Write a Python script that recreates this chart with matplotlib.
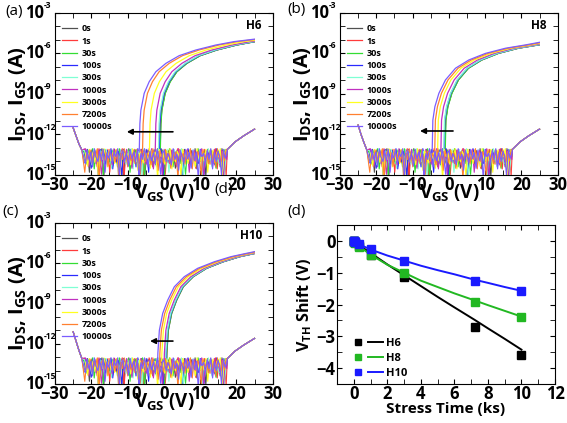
import numpy as np
import matplotlib
matplotlib.use('Agg')
import matplotlib.pyplot as plt
from matplotlib.patches import Rectangle
from matplotlib.lines import Line2D
from matplotlib.legend_handler import HandlerTuple
from matplotlib.ticker import FixedLocator, NullFormatter, MultipleLocator

plt.rcParams['font.family'] = ['Open Sans', 'DejaVu Sans']
plt.rcParams['font.weight'] = 'bold'
plt.rcParams['axes.labelweight'] = 'bold'
plt.rcParams['mathtext.fontset'] = 'custom'
plt.rcParams['mathtext.rm'] = 'Open Sans'
plt.rcParams['mathtext.bf'] = 'Open Sans:bold'
plt.rcParams['mathtext.it'] = 'Open Sans:italic'

# ---- data ----
stress_labels = ['0s', '1s', '30s', '100s', '300s', '1000s', '3000s', '7200s', '10000s']
colors = ['#505050', '#ff3b3b', '#33dd33', '#2a2aff', '#7fffd4',
          '#c030c0', '#ffff20', '#ff8030', '#7a5cff']

# turn-on voltage of each stress curve (V)
onset_h6 = [-1.05, -1.1, -1.0, -1.3, -1.5, -2.4, -4.0, -5.9, -6.8]
onset_h8 = [-1.06, -1.1, -1.0, -1.3, -1.4, -2.2, -3.1, -3.9, -4.6]
onset_h10 = [0.78, 0.7, 0.75, 0.6, 0.5, 0.1, -0.6, -1.15, -1.7]

# on-state shape: distance from turn-on (V) and log10(I)
dv_h6 = [0, 0.05, 0.19, 0.47, 1.38, 2.76, 4.6, 7.36, 11.03, 15.63, 21.14, 26.16, 32.0]
logi_h6 = [-13.3, -12.9, -11.2, -10.2, -8.95, -8.09, -7.35, -6.73, -6.16, -5.74, -5.37, -5.12, -4.93]
dv_h8 = [0, 0.05, 0.19, 0.75, 1.85, 3.66, 6.43, 10.1, 14.7, 20.2, 25.6, 30.0]
logi_h8 = [-13.3, -12.65, -10.93, -9.94, -8.95, -7.96, -7.09, -6.48, -5.99, -5.61, -5.37, -5.15]
dv_h10 = [0, 0.05, 0.46, 1.38, 2.76, 4.59, 7.34, 11.0, 15.6, 20.2, 24.3, 27.0]
logi_h10 = [-13.3, -12.7, -11.0, -9.74, -8.75, -7.75, -7.0, -6.38, -5.89, -5.51, -5.27, -5.12]

# gate leakage (IGS) ends
left_v = [-25, -24.2, -23.4, -22.6]
left_log_h6 = [-11.5, -12.1, -12.7, -13.15]
left_log_h8 = [-11.3, -12.0, -12.6, -13.15]
left_log_h10 = [-11.1, -11.8, -12.5, -13.1]
right_v = [17.5, 19.6, 22.0, 25.0]
right_log = [-13.1, -12.55, -12.1, -11.6]
floor_log = -13.5

# noise floor texture, log10 offsets from the floor
noise = [0.25, -0.45, 0.4, -1.3, 0.1, -0.25, 0.35, -0.6, 0.2, -0.15,
         0.45, -1.7, 0.05, 0.3, -0.5, 0.15, -0.85, 0.4, -0.3, 0.2,
         -0.55, 0.35, -2.0, 0.1, -0.35, 0.45, -0.05, -0.9, 0.25, -0.45,
         0.15, -0.65, 0.4, -0.25, -1.45, 0.2, 0.3, -0.5, 0.1, -0.2,
         -0.75, 0.45, -0.35, 0.05, -1.15, 0.3, -0.1, -0.6, 0.4, -0.3,
         0.15, -1.0, 0.35, -0.45, 0.2, -1.8, 0.4, -0.15, 0.1, -0.7,
         0.3, -0.35, 0.45, -1.05, 0.15, -0.5, 0.25, -0.1, -1.55, 0.4,
         -0.25, 0.1, -0.65, 0.35, -0.4, 0.2, -0.9, 0.45, -0.2, -0.5]
noise_v = np.linspace(-22, 17, len(noise))

# (d) threshold voltage shift
t_ks = [0, 0.001, 0.03, 0.1, 0.3, 1, 3, 7.2, 10]
shift_h6 = [0, -0.01, -0.02, -0.05, -0.15, -0.45, -1.15, -2.72, -3.58]
shift_h8 = [0, -0.01, -0.02, -0.06, -0.2, -0.45, -1.0, -1.92, -2.4]
shift_h10 = [0, 0, -0.01, -0.03, -0.1, -0.27, -0.62, -1.26, -1.59]
t_fit = [0, 0.5, 1, 2, 3, 4, 5, 6, 7.2, 8, 9, 10]
fit_h6 = [0, -0.2, -0.38, -0.74, -1.08, -1.42, -1.76, -2.09, -2.48, -2.75, -3.08, -3.42]
fit_h8 = [0, -0.24, -0.43, -0.75, -1.0, -1.25, -1.45, -1.65, -1.87, -2.02, -2.2, -2.38]
fit_h10 = [0, -0.15, -0.27, -0.46, -0.62, -0.78, -0.92, -1.05, -1.22, -1.32, -1.45, -1.57]

ytick_vals = [1e-15, 1e-12, 1e-9, 1e-6, 1e-3]
ytick_exp = ['-15', '-12', '-9', '-6', '-3']

W, H = 567, 423
fig = plt.figure(figsize=(W / 100, H / 100), dpi=100)


def box(l, r, t, b):
    return [l / W, 1 - b / H, (r - l) / W, (b - t) / H]


def transfer(ax, onsets, dv, logi, left_log, name, arrow):
    for i in range(len(stress_labels)):
        c = colors[i]
        nz = floor_log + np.roll(np.array(noise), 11 * i)
        v_gs = np.concatenate([left_v, noise_v + (0.17 * i) % 0.49, right_v])
        l_gs = np.concatenate([left_log, nz, right_log])
        ax.plot(v_gs, 10 ** l_gs, color=c, lw=0.8)
        v_ds = onsets[i] + np.array(dv)
        ln, = ax.plot(v_ds, 10 ** np.array(logi), color=c, lw=0.9, label=stress_labels[i])
        ln.set_clip_path(Rectangle((-26, 1e-16), 51.1, 1, transform=ax.transData))
    ax.set_yscale('log')
    ax.set_xlim(-30, 30)
    ax.set_ylim(1e-15, 1e-3)
    ax.yaxis.set_major_locator(FixedLocator(ytick_vals))
    ax.yaxis.set_major_formatter(NullFormatter())
    ax.yaxis.set_minor_locator(FixedLocator([10.0 ** k for k in range(-15, -2)]))
    ax.yaxis.set_minor_formatter(NullFormatter())
    for v, e in zip(ytick_vals, ytick_exp):
        ax.annotate('10', xy=(0, v), xycoords=('axes fraction', 'data'), xytext=(-11, 0),
                    textcoords='offset pixels', ha='right', va='center', fontsize=12,
                    annotation_clip=False, zorder=6)
        ax.annotate(e, xy=(0, v), xycoords=('axes fraction', 'data'), xytext=(-11, 3),
                    textcoords='offset pixels', ha='left', va='bottom', fontsize=6,
                    annotation_clip=False, zorder=6)
    ax.xaxis.set_major_locator(MultipleLocator(10))
    ax.xaxis.set_minor_locator(MultipleLocator(5))
    ax.tick_params(which='both', direction='in', top=True, right=True, labelsize=12, pad=0.5,
                   length=3.5)
    ax.set_xlabel(r'$\mathbf{V_{GS}}$ (V)', fontsize=13.5)
    ax.xaxis.set_label_coords(0.5, -0.045)
    ax.set_ylabel(r'$\mathbf{I_{DS}}$, $\mathbf{I_{GS}}$ (A)', fontsize=14.5)
    ax.yaxis.set_label_coords(-0.12, 0.5)
    ax.text(0.95, 0.92, name, transform=ax.transAxes, ha='right', va='center', fontsize=8.5)
    ax.annotate('', xy=(arrow[1], 10 ** arrow[2]), xytext=(arrow[0], 10 ** arrow[2]),
                arrowprops=dict(arrowstyle='-|>', color='black', lw=1.2,
                                mutation_scale=8, shrinkA=0, shrinkB=0))
    ax.legend(loc='upper left', bbox_to_anchor=(0.032, 0.93), frameon=False,
              prop={'weight': 'bold', 'size': 6.5}, handlelength=1.7,
              handletextpad=0.5, labelspacing=0.36, borderaxespad=0, borderpad=0)


ax_a = fig.add_axes(box(55, 272.7, 13, 175))
transfer(ax_a, onset_h6, dv_h6, logi_h6, left_log_h6, 'H6', (2.5, -10.2, -11.8))
ax_b = fig.add_axes(box(340, 557.7, 13, 175))
transfer(ax_b, onset_h8, dv_h8, logi_h8, left_log_h8, 'H8', (1.15, -7.95, -11.74))
ax_c = fig.add_axes(box(55, 272.7, 223, 384))
transfer(ax_c, onset_h10, dv_h10, logi_h10, left_log_h10, 'H10', (2.5, -3.8, -11.8))

# (d)
ax_d = fig.add_axes(box(337, 555, 225, 384))
handles = []
for sh, ft, c, name in [(shift_h6, fit_h6, 'black', 'H6'),
                        (shift_h8, fit_h8, '#22b822', 'H8'),
                        (shift_h10, fit_h10, '#1a1aff', 'H10')]:
    ax_d.plot(t_fit, ft, color=c, lw=1.4)
    ax_d.plot(t_ks, sh, ls='none', marker='s', ms=5.2, color=c)
    handles.append((Line2D([], [], ls='none', marker='s', ms=4.5, color=c),
                    Line2D([], [], color=c, lw=1.4)))
ax_d.set_xlim(-1, 12)
ax_d.set_ylim(-4.5, 0.5)
ax_d.xaxis.set_major_locator(MultipleLocator(2))
ax_d.xaxis.set_minor_locator(MultipleLocator(1))
ax_d.yaxis.set_major_locator(MultipleLocator(1))
ax_d.yaxis.set_minor_locator(MultipleLocator(0.5))
ax_d.tick_params(which='both', direction='in', top=True, right=True, labelsize=12, pad=1, length=3.5)
ax_d.set_xlabel('Stress Time (ks)', fontsize=11, labelpad=-1)
ax_d.set_ylabel(r'$\mathbf{V_{TH}}$ Shift (V)', fontsize=11.5, labelpad=2)
ax_d.legend(handles, ['H6', 'H8', 'H10'], handler_map={tuple: HandlerTuple(ndivide=None, pad=0.3)},
            loc='lower left', bbox_to_anchor=(0.06, 0.03), frameon=False,
            prop={'weight': 'bold', 'size': 8}, handlelength=3.0, handletextpad=0.25,
            labelspacing=0.38, borderaxespad=0, borderpad=0)

for x, y, s in [(14, 11, '(a)'), (296, 9, '(b)'), (11, 211, '(c)'), (297, 211, '(d)'), (224, 189, '(d)')]:
    fig.text(x / W, 1 - y / H, s, ha='center', va='center', fontsize=11, fontweight='normal')

fig.savefig('out.png', dpi=100)
